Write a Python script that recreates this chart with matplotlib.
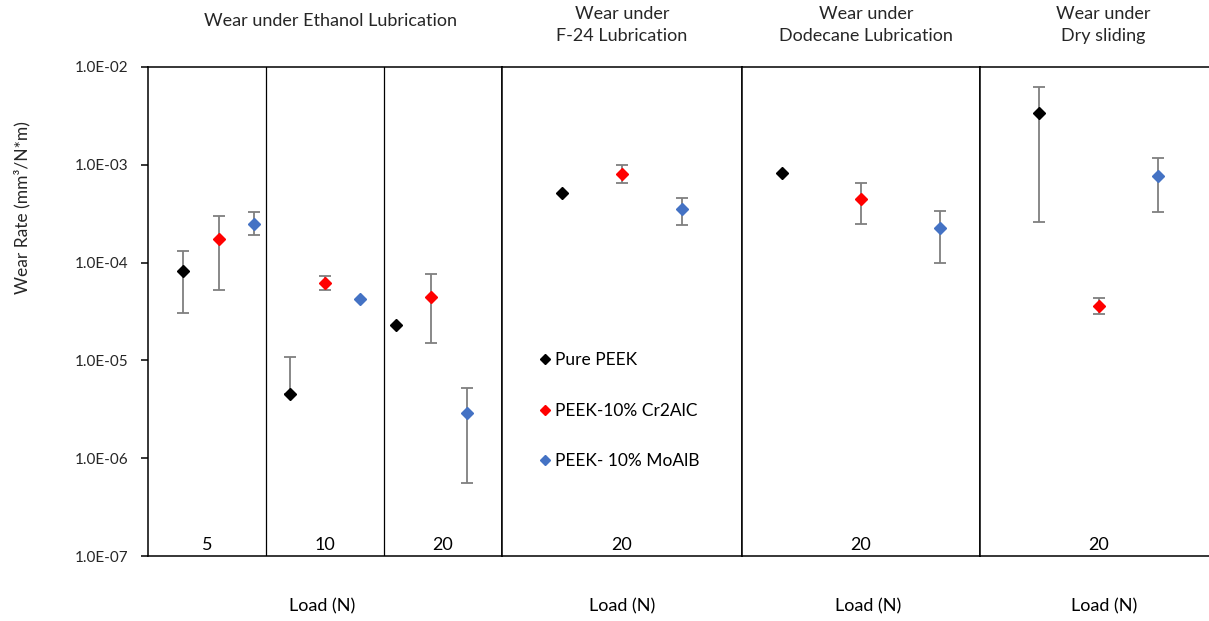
import matplotlib
matplotlib.use("Agg")
import matplotlib.pyplot as plt
from matplotlib.lines import Line2D
from matplotlib.ticker import FixedLocator, NullLocator

plt.rcParams['font.family'] = ['Lato', 'DejaVu Sans']

materials = ["Pure PEEK", "PEEK-10% Cr2AlC", "PEEK- 10% MoAlB"]
colors = ["#000000", "#FF0000", "#4472C4"]
err_color = "#7F7F7F"
text_color = "#262626"

# Ethanol lubrication, loads 5 / 10 / 20 N (one value per load)
eth_loads = ["5", "10", "20"]
eth_pure = [8.2e-5, 4.5e-6, 2.3e-5]
eth_pure_lo = [3.05e-5, None, None]
eth_pure_hi = [1.32e-4, 1.09e-5, None]
eth_cr = [1.74e-4, 6.2e-5, 4.5e-5]
eth_cr_lo = [5.2e-5, 5.2e-5, 1.5e-5]
eth_cr_hi = [3.0e-4, 7.3e-5, 7.6e-5]
eth_mo = [2.5e-4, 4.2e-5, 2.9e-6]
eth_mo_lo = [1.9e-4, None, 5.6e-7]
eth_mo_hi = [3.3e-4, None, 5.2e-6]

# Single load (20 N) panels, one value per material
f24_rate = [5.1e-4, 8.1e-4, 3.5e-4]
f24_lo = [None, 6.5e-4, 2.45e-4]
f24_hi = [None, 9.9e-4, 4.6e-4]
dod_rate = [8.2e-4, 4.5e-4, 2.25e-4]
dod_lo = [None, 2.5e-4, 1.0e-4]
dod_hi = [None, 6.5e-4, 3.4e-4]
dry_rate = [3.35e-3, 3.6e-5, 7.6e-4]
dry_lo = [2.6e-4, 2.95e-5, 3.3e-4]
dry_hi = [6.3e-3, 4.3e-5, 1.17e-3]

yticks = [1e-7, 1e-6, 1e-5, 1e-4, 1e-3, 1e-2]
ytick_labels = ["1.0E-07", "1.0E-06", "1.0E-05", "1.0E-04", "1.0E-03", "1.0E-02"]

W, H = 1209, 621
fig = plt.figure(figsize=(W / 100, H / 100), dpi=100)


def px_axes(x0, x1, y_top=67, y_bot=556):
    return fig.add_axes([x0 / W, 1 - y_bot / H, (x1 - x0) / W, (y_bot - y_top) / H])


def point(ax, x, v, lo, hi, color):
    if lo is not None or hi is not None:
        lo_e = v - lo if lo is not None else 0
        hi_e = hi - v if hi is not None else 0
        ax.errorbar([x], [v], yerr=[[lo_e], [hi_e]], fmt="none", ecolor=err_color,
                    elinewidth=1.3, capsize=4, capthick=1.3, zorder=2)
    ax.plot([x], [v], marker="D", ms=6, color=color, linestyle="none", zorder=3)


def style(ax, show_y=False):
    ax.set_yscale("log")
    ax.set_ylim(1e-7, 1e-2)
    ax.set_xticks([])
    ax.yaxis.set_minor_locator(NullLocator())
    for s in ax.spines.values():
        s.set_linewidth(1.1)
        s.set_color("black")
    if show_y:
        ax.yaxis.set_major_locator(FixedLocator(yticks))
        ax.set_yticklabels(ytick_labels, fontsize=11, color=text_color)
        ax.tick_params(axis="y", direction="out", length=5, width=1.1, pad=9)
    else:
        ax.set_yticks([])


# Ethanol panel
ax_eth = px_axes(148, 502)
style(ax_eth, show_y=True)
ax_eth.set_xlim(0, 10)
eth_series = [
    (eth_pure, eth_pure_lo, eth_pure_hi),
    (eth_cr, eth_cr_lo, eth_cr_hi),
    (eth_mo, eth_mo_lo, eth_mo_hi),
]
for i, load in enumerate(eth_loads):
    for j, (vals, los, his) in enumerate(eth_series):
        point(ax_eth, i * 3 + j + 1, vals[i], los[i], his[i], colors[j])
    ax_eth.text((i + 0.5) * 10 / 3, 1.3e-7, load, ha="center", va="center", fontsize=13)
for d in (10 / 3, 20 / 3):
    ax_eth.axvline(d, color="black", linewidth=0.9)

panels = [
    (502, 742, (0, 4), f24_rate, f24_lo, f24_hi),
    (742, 980, (0.5, 3.5), dod_rate, dod_lo, dod_hi),
    (980, 1217, (0, 4), dry_rate, dry_lo, dry_hi),
]
for x0, x1, xl, vals, los, his in panels:
    ax = px_axes(x0, x1)
    style(ax)
    ax.set_xlim(*xl)
    for j in range(3):
        point(ax, j + 1, vals[j], los[j], his[j], colors[j])
    ax.text(sum(xl) / 2, 1.3e-7, "20", ha="center", va="center", fontsize=13)

# Titles
fig.text(330 / W, 1 - 21 / H, "Wear under Ethanol Lubrication", ha="center", va="center",
         fontsize=13, color=text_color)
for xc, txt in ((622, "Wear under\nF-24 Lubrication"),
                (866, "Wear under\nDodecane Lubrication"),
                (1103, "Wear under\nDry sliding")):
    fig.text(xc / W, 1 - 25 / H, txt, ha="center", va="center", fontsize=13,
             linespacing=1.45, color=text_color)

# Load labels
for xc in (322, 622, 868, 1104):
    fig.text(xc / W, 1 - 606 / H, "Load (N)", ha="center", va="center", fontsize=13)

fig.text(22 / W, 1 - 208 / H, "Wear Rate (mm³/N*m)", rotation=90, ha="center", va="center",
         fontsize=12.5, color=text_color)

handles = [Line2D([], [], marker="D", ms=4.8, color=c, linestyle="none") for c in colors]
fig.legend(handles, materials, loc="upper left", bbox_to_anchor=(530 / W, 1 - 345 / H),
           frameon=False, fontsize=12.5, labelspacing=2.0, handletextpad=0.15,
           handlelength=0.9, borderaxespad=0)

fig.savefig("out.png", dpi=100, facecolor="white")
